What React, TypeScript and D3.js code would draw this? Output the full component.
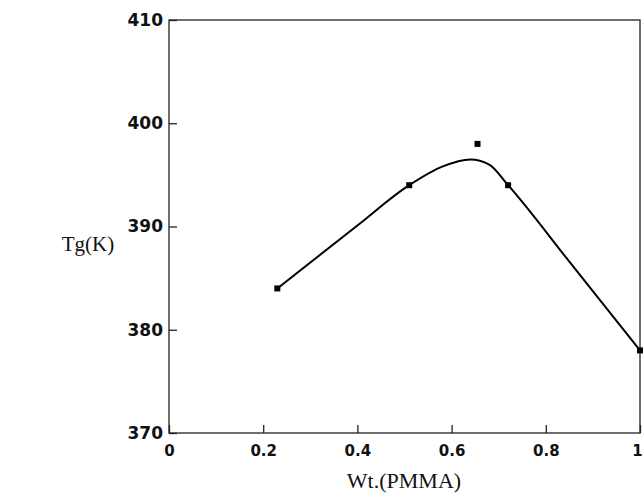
import React, { useEffect, useRef } from 'react';
import * as d3 from 'd3';

// measured points
const wtPMMA = [0.23, 0.51, 0.655, 0.72, 1.0];
const tgK = [384, 394, 398, 394, 378];

// fitted curve
const fitX = [0.23, 0.4, 0.51, 0.58, 0.64, 0.68, 0.72, 0.85, 1.0];
const fitY = [384, 390.1, 394, 395.8, 396.5, 396.0, 394, 386.6, 378];

const xTicks = [0, 0.2, 0.4, 0.6, 0.8, 1];
const yTicks = [370, 380, 390, 400, 410];

const App = () => {
  const svgRef = useRef<SVGSVGElement>(null);

  useEffect(() => {
    const svg = d3.select(svgRef.current);
    svg.selectAll('*').remove();

    const left = 169, right = 640, top = 20, bottom = 433;

    const x = d3.scaleLinear().domain([0, 1]).range([left, right]);
    const y = d3.scaleLinear().domain([370, 410]).range([bottom, top]);

    svg.append('rect')
      .attr('x', left).attr('y', top)
      .attr('width', right - left).attr('height', bottom - top)
      .attr('fill', 'none').attr('stroke', '#222').attr('stroke-width', 1.3);

    const xAxis = svg.append('g')
      .attr('transform', `translate(0,${bottom})`)
      .call(d3.axisBottom(x).tickValues(xTicks).tickSize(-8).tickPadding(12)
        .tickFormat(d => (d === 0 || d === 1 ? String(d) : d3.format('.1f')(d as number))));
    xAxis.select('.domain').remove();
    xAxis.selectAll('line').attr('stroke', '#222').attr('stroke-width', 1.3);
    xAxis.selectAll('text')
      .attr('font-family', 'DejaVu Sans').attr('font-weight', 'bold')
      .attr('font-size', 15).attr('fill', '#111')
      .attr('dx', d => (d === 1 ? -3 : 0)); // keep the last label inside the page

    const yAxis = svg.append('g')
      .attr('transform', `translate(${left},0)`)
      .call(d3.axisLeft(y).tickValues(yTicks).tickSize(-8).tickPadding(6));
    yAxis.select('.domain').remove();
    yAxis.selectAll('line').attr('stroke', '#222').attr('stroke-width', 1.3);
    yAxis.selectAll('text')
      .attr('font-family', 'DejaVu Sans').attr('font-weight', 'bold')
      .attr('font-size', 17).attr('fill', '#111');

    const line = d3.line<number>()
      .x((d, i) => x(fitX[i]))
      .y(d => y(d))
      .curve(d3.curveMonotoneX);

    svg.append('path')
      .datum(fitY)
      .attr('d', line)
      .attr('fill', 'none')
      .attr('stroke', '#000')
      .attr('stroke-width', 2);

    svg.append('g')
      .selectAll('rect')
      .data(tgK)
      .enter()
      .append('rect')
      .attr('x', (d, i) => x(wtPMMA[i]) - 3)
      .attr('y', d => y(d) - 3)
      .attr('width', 6)
      .attr('height', 6)
      .attr('fill', '#000');

    svg.append('text')
      .attr('x', 404)
      .attr('y', 488)
      .style('text-anchor', 'middle')
      .attr('font-family', 'Liberation Serif')
      .attr('font-size', 22)
      .attr('fill', '#111')
      .text('Wt.(PMMA)');

    svg.append('text')
      .attr('x', 88)
      .attr('y', 251)
      .style('text-anchor', 'middle')
      .attr('font-family', 'Liberation Serif')
      .attr('font-size', 21)
      .attr('fill', '#111')
      .text('Tg(K)');
  }, []);

  return (
    <svg
      ref={svgRef}
      width={643}
      height={495}
      style={{ position: 'absolute', left: 0, top: 0, background: '#fff' }}
    />
  );
};

export default App;
